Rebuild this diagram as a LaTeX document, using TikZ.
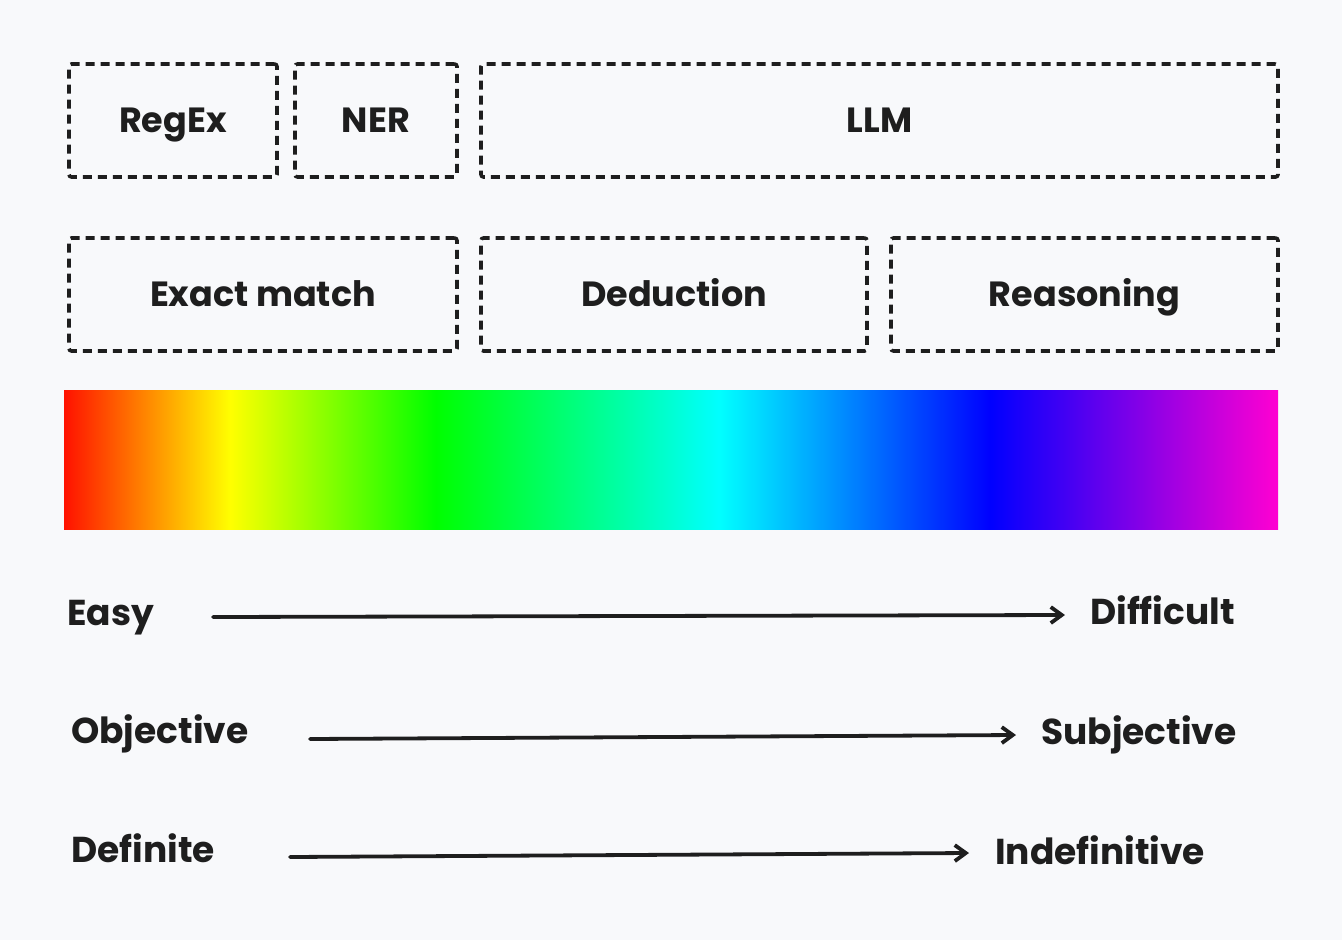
\documentclass[tikz,border=0pt]{standalone}
\usepackage{fontspec}
\setmainfont{Poppins}
\usetikzlibrary{arrows.meta}
\definecolor{bg}{HTML}{F8F9FB}
\definecolor{ink}{HTML}{1E1E1E}
\definecolor{endmag}{rgb}{1,0,0.82}
\definecolor{startred}{rgb}{1,0.07,0}
\pgfdeclarehorizontalshading{huebar}{100bp}{color(0bp)=(startred); color(25bp)=(startred); color(31.85bp)=(yellow); color(40.3bp)=(green); color(52bp)=(cyan); color(63.15bp)=(blue); color(75bp)=(endmag); color(100bp)=(endmag)}
\tikzset{
  dbox/.style={draw=ink, line width=3.6pt, dash pattern=on 9pt off 6pt, rounded corners=2.5pt, inner sep=0pt, text height=24pt, text depth=0pt, font=\fontsize{35}{40}\selectfont\bfseries, text=ink},
  lbl/.style={anchor=base west, inner sep=0pt, font=\fontsize{36}{40}\selectfont\bfseries, text=ink},
  harrow/.style={draw=ink, line width=3.8pt, line cap=round, -{Straight Barb[length=11pt,width=16pt,line width=3.8pt]}}
}
\begin{document}
\begin{tikzpicture}[x=1pt,y=-1pt]
\fill[bg] (0,0) rectangle (1342,940);
\useasboundingbox (0,0) rectangle (1342,940);
% top row
\node[dbox, minimum width=208pt, minimum height=113pt] (regex) at (173,120.5) {RegEx};
\node[dbox, minimum width=162pt, minimum height=113pt] (ner) at (376,120.5) {NER};
\node[dbox, minimum width=797pt, minimum height=113pt] (llm) at (879.5,120.5) {LLM};
% second row
\node[dbox, minimum width=388pt, minimum height=113pt] (exact) at (263,294.5) {Exact match};
\node[dbox, minimum width=386pt, minimum height=113pt] (ded) at (674,294.5) {Deduction};
\node[dbox, minimum width=387pt, minimum height=113pt] (reas) at (1084.5,294.5) {Reasoning};
% gradient bar
\shade[shading=huebar] (64,390) rectangle (1278,529);
% scales
\node[lbl] (easy) at (67,625) {Easy};
\node[lbl] (diff) at (1090,624) {Difficult};
\node[lbl] (obj) at (71,743) {Objective};
\node[lbl] (subj) at (1041,744) {Subjective};
\node[lbl] (defi) at (71,862) {Definite};
\node[lbl] (indef) at (995,864) {Indefinitive};
\coordinate (a1s) at (213,617);
\coordinate (a1e) at (1065,615);
\coordinate (a2s) at (310,739);
\coordinate (a2e) at (1016,735);
\coordinate (a3s) at (290,857);
\coordinate (a3e) at (969,853);
\draw[harrow] (a1s) -- (a1e);
\draw[harrow] (a2s) -- (a2e);
\draw[harrow] (a3s) -- (a3e);
\end{tikzpicture}
\end{document}
